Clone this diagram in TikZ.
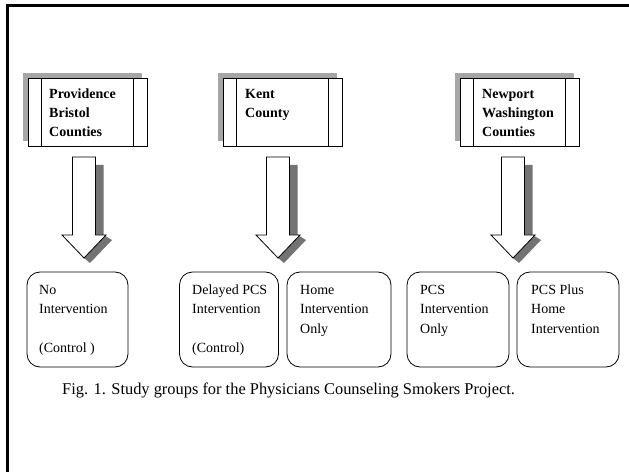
\documentclass[tikz,border=0pt]{standalone}
\usepackage{fontspec}
\setmainfont{Liberation Serif}
\newcommand\mylines[1]{\vtop{\baselineskip=19bp\lineskiplimit=-100bp #1}}
\begin{document}
\begin{tikzpicture}[x=1bp,y=-1bp,
 topbox/.style={draw=black, fill=white, line width=0.8bp, minimum width=119bp, minimum height=68bp, inner sep=0pt},
 grpbox/.style={draw=black, line width=0.8bp, rounded corners=13bp, inner sep=0pt, minimum height=95bp},
 boxshadow/.style={fill=black!35},
 arrowshadow/.style={fill=black!55},
 arrowbody/.style={draw=black, fill=white, line width=0.8bp, line join=miter},
 inline/.style={draw=black, line width=0.8bp},
 toptext/.style={anchor=base west, inner sep=0pt, font=\fontsize{14bp}{19bp}\selectfont\bfseries},
 grptext/.style={anchor=base west, inner sep=0pt, font=\fontsize{14bp}{19bp}\selectfont},
 blockarrow/.pic={
  \fill[arrowshadow] (11.5,8) -- (19.5,8) -- (19.5,78) -- (28,83) -- (6,106) -- (0,101) -- cycle;
  \draw[arrowbody] (-11.5,0) -- (11.5,0) -- (11.5,78) -- (22,78) -- (0,101) -- (-22,78) -- (-11.5,78) -- cycle;
 }]
\useasboundingbox (0,0) rectangle (629,472);
\fill[white] (0,0) rectangle (629,472);
% frame
\draw[line width=3bp] (7.5,472) -- (7.5,5.5) -- (629,5.5);

% top boxes
\foreach \n/\cx in {p1/87.5, p2/282.5, p3/519.5}{
  \fill[boxshadow] (\cx-64.5,73) rectangle (\cx+54.5,141);
  \node[topbox] (\n) at (\cx,112) {};
  \draw[inline] ([xshift=14bp]\n.north west) -- ([xshift=14bp]\n.south west);
  \draw[inline] ([xshift=-14bp]\n.north east) -- ([xshift=-14bp]\n.south east);
}
\node[toptext] (t1) at (49,99) {\mylines{\hbox{Providence}\hbox{Bristol}\hbox{Counties}}};
\node[toptext] (t2) at (245,99) {\mylines{\hbox{Kent}\hbox{County}}};
\node[toptext] (t3) at (482,99) {\mylines{\hbox{Newport}\hbox{Washington}\hbox{Counties}}};

% block arrows
\pic (a1) at (84,157) {blockarrow};
\pic (a2) at (278,157) {blockarrow};
\pic (a3) at (513,157) {blockarrow};

% group boxes
\node[grpbox, minimum width=101bp] (g1) at (77.5,319.5) {};
\node[grpbox, minimum width=99bp] (g2) at (229,319.5) {};
\node[grpbox, minimum width=104bp] (g3) at (339,319.5) {};
\node[grpbox, minimum width=102bp] (g4) at (458,319.5) {};
\node[grpbox, minimum width=102bp] (g5) at (568,319.5) {};

\node[grptext] (s1) at (39,295) {\mylines{\hbox{No}\hbox{Intervention}\hbox{}\hbox{(Control )}}};
\node[grptext] (s2) at (192,295) {\mylines{\hbox{Delayed PCS}\hbox{Intervention}\hbox{}\hbox{(Control)}}};
\node[grptext] (s3) at (300,295) {\mylines{\hbox{Home}\hbox{Intervention}\hbox{Only}}};
\node[grptext] (s4) at (420,295) {\mylines{\hbox{PCS}\hbox{Intervention}\hbox{Only}}};
\node[grptext] (s5) at (531,295) {\mylines{\hbox{PCS Plus}\hbox{Home}\hbox{Intervention}}};

% caption
\node[anchor=base west, inner sep=0pt, font=\fontsize{16.4bp}{19bp}\selectfont] (cap) at (62,394) {Fig. 1. Study groups for the Physicians Counseling Smokers Project.};
\end{tikzpicture}
\end{document}
